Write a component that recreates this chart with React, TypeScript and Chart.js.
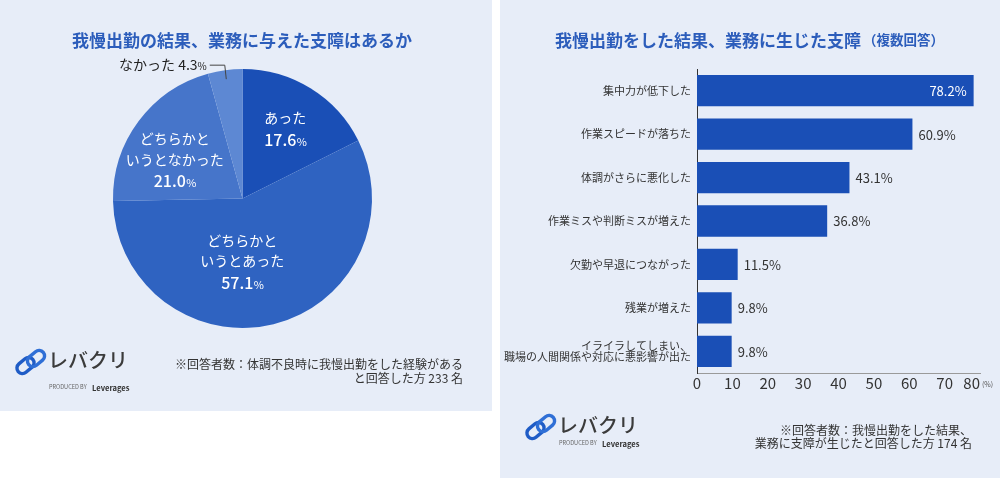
import React, { useEffect, useRef } from 'react';
import { Chart, registerables } from 'chart.js';

Chart.register(...registerables);

const FONT = '"Noto Sans CJK JP", "Noto Sans", sans-serif';

// ---- Pie data ----
const pieCategories = ['あった', 'どちらかというとあった', 'どちらかというとなかった', 'なかった'];
const pieLabelLines = [['あった'], ['どちらかと', 'いうとあった'], ['どちらかと', 'いうとなかった'], ['なかった']];
const pieValues = [17.6, 57.1, 21.0, 4.3];
const pieColors = ['#1a4fb6', '#2f63c1', '#4675ca', '#5d88d3'];

// ---- Bar data ----
const barCategories: (string | string[])[] = [
  '集中力が低下した',
  '作業スピードが落ちた',
  '体調がさらに悪化した',
  '作業ミスや判断ミスが増えた',
  '欠勤や早退につながった',
  '残業が増えた',
  ['イライラしてしまい、', '職場の人間関係や対応に悪影響が出た'],
];
const barValues = [78.2, 60.9, 43.1, 36.8, 11.5, 9.8, 9.8];
const xTickMin = 0;
const xTickMax = 80;
const xTickStep = 10;

// label placement (style, not data): radius fraction and angle shift (deg)
const piePlacement = [
  { r: 0.63, da: 0 },
  { r: 0.488, da: 14 },
  { r: 0.6, da: -7.3 },
  { r: 0.93, da: 0, outside: true },
];

const pieLabelPlugin = {
  id: 'pieLabels',
  afterDatasetsDraw(chart: any) {
    const ctx = chart.ctx;
    const meta = chart.getDatasetMeta(0);
    meta.data.forEach((arc: any, i: number) => {
      const p = arc.getProps(['x', 'y', 'startAngle', 'endAngle', 'outerRadius'], true);
      const place = piePlacement[i];
      const mid = (p.startAngle + p.endAngle) / 2 + (place.da * Math.PI) / 180;
      const rr = p.outerRadius * place.r;
      const cx = p.x + rr * Math.cos(mid);
      const cy = p.y + rr * Math.sin(mid);
      const num = pieValues[i].toFixed(1);
      ctx.save();
      if (place.outside) {
        const ex = cx - 1.5;
        const ey = cy - 14;
        ctx.strokeStyle = '#444';
        ctx.lineWidth = 1;
        ctx.beginPath();
        ctx.moveTo(cx, cy);
        ctx.lineTo(ex, ey);
        ctx.lineTo(ex - 15, ey);
        ctx.stroke();
        const label = pieLabelLines[i][0] + ' ';
        ctx.fillStyle = '#222';
        ctx.textBaseline = 'alphabetic';
        ctx.font = `400 10px ${FONT}`;
        const wp = ctx.measureText('%').width;
        ctx.font = `400 14px ${FONT}`;
        const wn = ctx.measureText(num).width;
        const wl = ctx.measureText(label).width;
        const right = ex - 18;
        const base = ey + 5;
        ctx.textAlign = 'left';
        ctx.fillText(label, right - wp - wn - wl, base);
        ctx.fillText(num, right - wp - wn, base);
        ctx.font = `400 10px ${FONT}`;
        ctx.fillText('%', right - wp, base);
      } else {
        const lines = pieLabelLines[i];
        const span = (lines.length - 1) * 20.5 + 22.5;
        let y = cy - span / 2;
        ctx.fillStyle = '#ffffff';
        ctx.textAlign = 'center';
        ctx.textBaseline = 'middle';
        ctx.font = `400 14px ${FONT}`;
        lines.forEach((ln, k) => {
          ctx.fillText(ln, cx, y);
          if (k < lines.length - 1) y += 20.5;
        });
        y += 22.5;
        ctx.textAlign = 'left';
        ctx.textBaseline = 'alphabetic';
        ctx.font = `500 16px ${FONT}`;
        const wn = ctx.measureText(num).width;
        ctx.font = `400 11px ${FONT}`;
        const wp = ctx.measureText('%').width;
        const sx = cx - (wn + wp) / 2;
        const base = y + 5.5;
        ctx.font = `500 16px ${FONT}`;
        ctx.fillText(num, sx, base);
        ctx.font = `400 11px ${FONT}`;
        ctx.fillText('%', sx + wn + 0.5, base);
      }
      ctx.restore();
    });
  },
};

const barLabelPlugin = {
  id: 'barLabels',
  afterDatasetsDraw(chart: any) {
    const ctx = chart.ctx;
    const meta = chart.getDatasetMeta(0);
    const area = chart.chartArea;
    ctx.save();
    ctx.font = `400 13px ${FONT}`;
    ctx.textBaseline = 'middle';
    meta.data.forEach((bar: any, i: number) => {
      const p = bar.getProps(['x', 'y'], true);
      const text = barValues[i].toFixed(1) + '%';
      const w = ctx.measureText(text).width;
      if (p.x + 6 + w > area.right) {
        ctx.fillStyle = '#ffffff';
        ctx.textAlign = 'right';
        ctx.fillText(text, p.x - 7, p.y + 0.5);
      } else {
        ctx.fillStyle = '#333333';
        ctx.textAlign = 'left';
        ctx.fillText(text, p.x + 6, p.y + 0.5);
      }
    });
    // unit after last tick
    const xs = chart.scales.x;
    ctx.fillStyle = '#555';
    ctx.font = `400 7px ${FONT}`;
    ctx.textAlign = 'left';
    ctx.fillText('(%)', area.right + 2, xs.top + 11);
    ctx.restore();
  },
};

function PieChart() {
  const ref = useRef<HTMLCanvasElement>(null);
  useEffect(() => {
    const chart = new Chart(ref.current!, {
      type: 'pie',
      data: {
        labels: pieCategories,
        datasets: [
          {
            data: pieValues,
            backgroundColor: pieColors,
            borderWidth: 0,
          },
        ],
      },
      options: {
        animation: false,
        responsive: false,
        layout: { padding: { left: 113, right: 120, top: 69, bottom: 83 } },
        plugins: { legend: { display: false }, tooltip: { enabled: false } },
      },
      plugins: [pieLabelPlugin],
    } as any);
    return () => chart.destroy();
  }, []);
  return (
    <canvas
      ref={ref}
      width={492}
      height={411}
      style={{ position: 'absolute', left: 0, top: 0, width: 492, height: 411 }}
    />
  );
}

function BarChart() {
  const ref = useRef<HTMLCanvasElement>(null);
  useEffect(() => {
    const chart = new Chart(ref.current!, {
      type: 'bar',
      data: {
        labels: barCategories,
        datasets: [
          {
            data: barValues,
            backgroundColor: '#1a4fb6',
            borderWidth: 0,
            barPercentage: 0.9,
            categoryPercentage: 0.8,
          },
        ],
      },
      options: {
        animation: false,
        responsive: false,
        indexAxis: 'y',
        layout: { padding: { left: 0, right: 20, top: 69, bottom: 75 } },
        plugins: { legend: { display: false }, tooltip: { enabled: false } },
        scales: {
          x: {
            min: xTickMin,
            max: xTickMax,
            grid: { display: false, drawTicks: false },
            border: { display: true, color: '#9a9a9a', width: 1 },
            ticks: {
              stepSize: xTickStep,
              color: '#333',
              padding: 1,
              maxRotation: 0,
              autoSkip: false,
              font: { family: FONT, size: 15, weight: '400' },
              callback: (v: any) => (v === xTickMax ? `${v}\u2007\u2007` : `${v}`),
            },
            afterFit: (s: any) => {
              s.height = 30;
            },
          },
          y: {
            grid: { display: false, drawTicks: false },
            border: { display: true, color: '#333', width: 1 },
            ticks: {
              color: '#333',
              padding: 6,
              autoSkip: false,
              font: { family: FONT, size: 11, weight: '400', lineHeight: 1.08 },
            },
            afterFit: (s: any) => {
              s.width = 197;
            },
          },
        },
      },
      plugins: [barLabelPlugin],
    } as any);
    return () => chart.destroy();
  }, []);
  return (
    <canvas
      ref={ref}
      width={500}
      height={478}
      style={{ position: 'absolute', left: 500, top: 0, width: 500, height: 478 }}
    />
  );
}

function Logo({ x, y, smallY }: { x: number; y: number; smallY: number }) {
  return (
    <g transform={`translate(${x},${y})`}>
      <g fill="none" stroke="#1f5cc6" strokeWidth={3.4} strokeLinecap="round">
        <rect x={-9.5} y={-5.5} width={19} height={11} rx={5.5} transform="translate(10.5,14.5) rotate(-40)" />
        <rect x={-9.5} y={-5.5} width={19} height={11} rx={5.5} transform="translate(21,7.5) rotate(-40)" stroke="#2f6fd6" />
      </g>
      <text x={33} y={16.5} fontFamily={FONT} fontSize={20} fontWeight={500} fill="#3b3b3b">
        レバクリ
      </text>
      <text x={34} y={smallY} fontFamily={FONT} fontSize={5.6} fill="#666" dominantBaseline="central">
        PRODUCED BY
      </text>
      <text x={77} y={smallY} fontFamily={FONT} fontSize={7.6} fontWeight={700} fill="#333" dominantBaseline="central">
        Leverages
      </text>
    </g>
  );
}

export default function App() {
  useEffect(() => {
    document.body.style.margin = '0';
  }, []);
  const titleColor = '#2c5dbb';
  return (
    <div style={{ position: 'absolute', left: 0, top: 0, width: 1000, height: 478, background: '#ffffff', overflow: 'hidden' }}>
      <div style={{ position: 'absolute', left: 0, top: 0, width: 492, height: 411, background: '#e7edf8' }} />
      <div style={{ position: 'absolute', left: 500, top: 0, width: 500, height: 478, background: '#e7edf8' }} />
      <PieChart />
      <BarChart />
      <svg
        width={1000}
        height={478}
        style={{ position: 'absolute', left: 0, top: 0, pointerEvents: 'none' }}
      >
        <text x={242} y={39} textAnchor="middle" dominantBaseline="central" fontFamily={FONT} fontSize={17} fontWeight={700} fill={titleColor}>
          我慢出勤の結果、業務に与えた支障はあるか
        </text>
        <text x={555} y={39} dominantBaseline="central" fontFamily={FONT} fontWeight={700} fill={titleColor}>
          <tspan fontSize={17}>我慢出勤をした結果、業務に生じた支障</tspan>
          <tspan fontSize={13.5} dx={2}>（複数回答）</tspan>
        </text>
        <g fontFamily={FONT} fontSize={12} fill="#333" textAnchor="end" dominantBaseline="central">
          <text x={463} y={363}>※回答者数：体調不良時に我慢出勤をした経験がある</text>
          <text x={463} y={377}>と回答した方 233 名</text>
          <text x={972} y={429}>※回答者数：我慢出勤をした結果、</text>
          <text x={972} y={442}>業務に支障が生じたと回答した方 174 名</text>
        </g>
        <Logo x={15} y={351} smallY={36} />
        <Logo x={525} y={416} smallY={27} />
      </svg>
    </div>
  );
}
